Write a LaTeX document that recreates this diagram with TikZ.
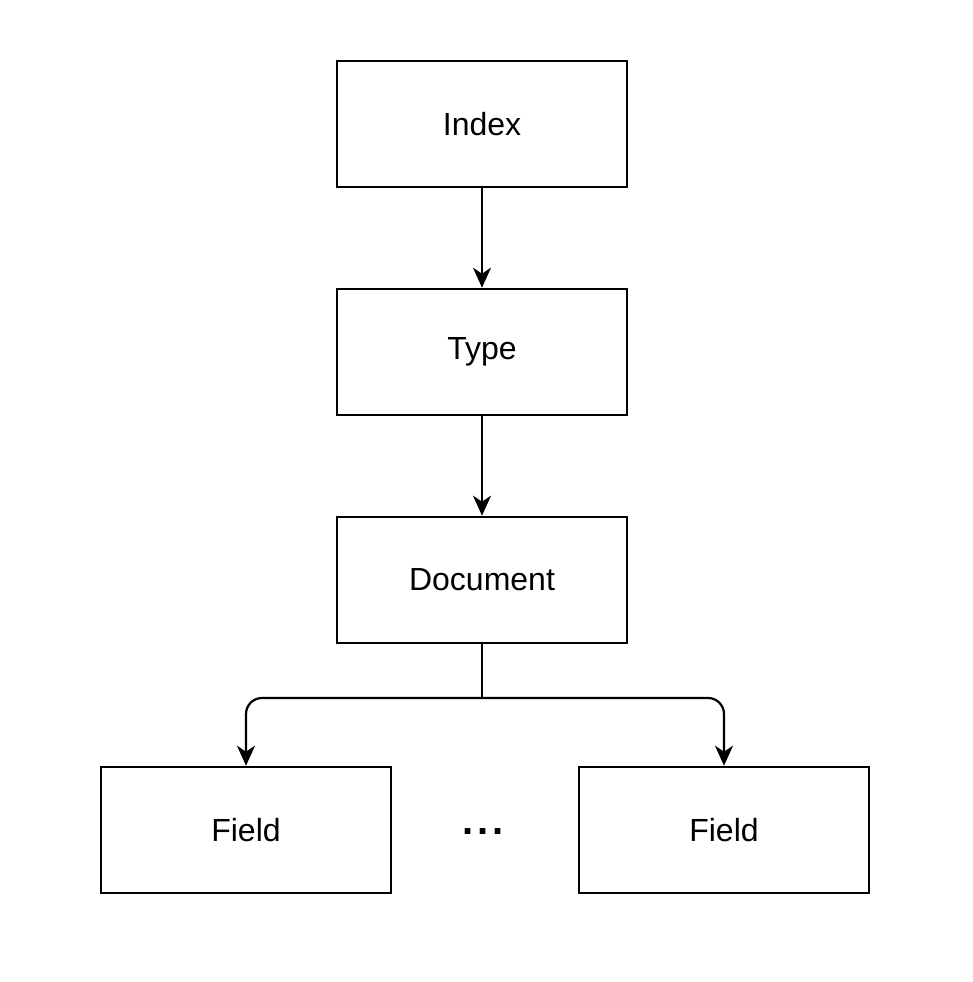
\documentclass[tikz,border=0pt]{standalone}
\usepackage{fontspec}
\setmainfont{Liberation Sans}
\usetikzlibrary{arrows.meta}
\begin{document}
\begin{tikzpicture}[x=1pt,y=-1pt,
  box/.style={draw=black,line width=2.6pt,minimum width=290pt,minimum height=126pt,inner sep=0pt,font=\fontsize{32}{38}\selectfont},
  conn/.style={line width=2.2pt,-{Stealth[length=20pt,width=18pt,inset=6pt]}},
  plain/.style={line width=2.2pt}]
\useasboundingbox (0,0) rectangle (972,982);
\fill[white] (0,0) rectangle (972,982);
\node[box] (index) at (482,124) {Index};
\node[box] (type) at (482,352) {Type};
\node[box] (doc) at (482,580) {Document};
\node[box] (f1) at (246,830) {Field};
\node[box] (f2) at (724,830) {Field};
\node[inner sep=0pt,font=\fontsize{40}{48}\selectfont\bfseries] (dots) at (483,832) {.\kern4pt.\kern4pt.};
\coordinate (j) at (482,698);
\draw[conn] (index) -- (type);
\draw[conn] (type) -- (doc);
\draw[plain] (doc.south) -- (j);
\draw[conn,rounded corners=16pt] (j) -| (f1.north);
\draw[conn,rounded corners=16pt] (j) -| (f2.north);
\end{tikzpicture}
\end{document}
